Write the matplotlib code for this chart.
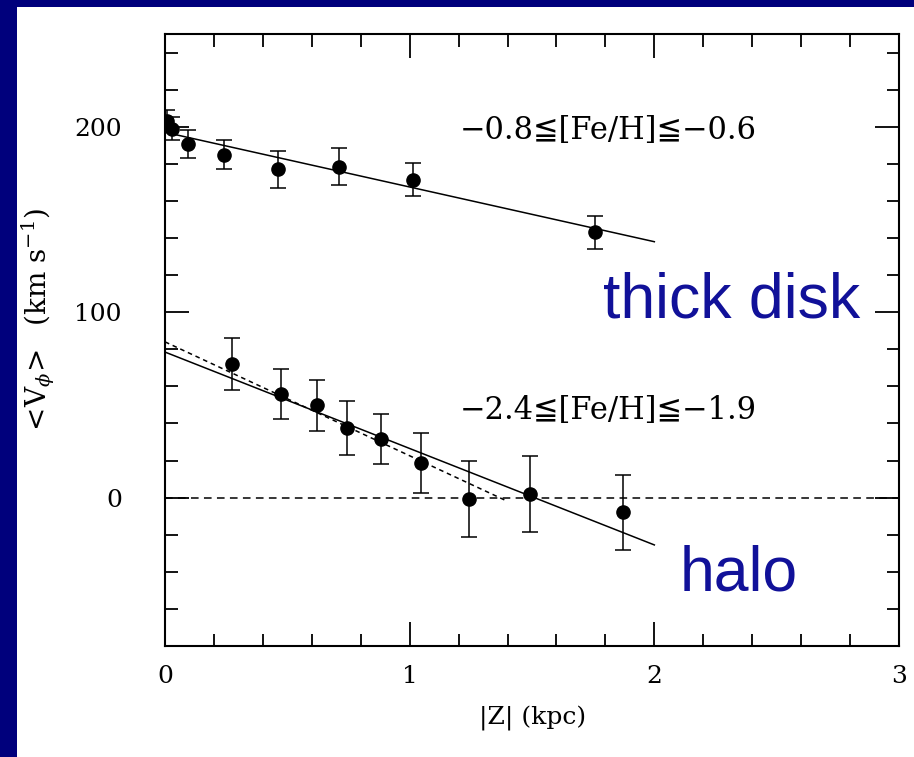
import matplotlib
matplotlib.use("Agg")
import matplotlib.pyplot as plt
from matplotlib.patches import Rectangle
import numpy as np

# ---- data ----
thick_z = [0.01, 0.03, 0.095, 0.242, 0.463, 0.711, 1.012, 1.757]
thick_v = [203, 199, 190.5, 185, 177, 178.5, 171.5, 143]
thick_err = [6, 6, 7.5, 8, 10, 10, 9, 9]

halo_z = [0.272, 0.474, 0.62, 0.742, 0.883, 1.045, 1.242, 1.492, 1.873]
halo_v = [72.3, 56.0, 49.7, 37.5, 31.5, 18.7, -0.7, 2.0, -8.0]
halo_err = [14, 13.5, 14, 14.5, 13.5, 16, 20.5, 20.5, 20]

thick_fit_z = [0, 2]
thick_fit_v = [197, 138]
halo_fit_z = [0, 2]
halo_fit_v = [78.5, -25.5]
halo_dash_z = [0, 1.4]
halo_dash_v = [84, -2]

thick_label = "\u22120.8\u2266[Fe/H]\u2266\u22120.6"
halo_label = "\u22122.4\u2266[Fe/H]\u2266\u22121.9"

W, H = 914, 757
fig = plt.figure(figsize=(W / 100, H / 100), dpi=100)
fig.patch.set_facecolor('#00007C')
# white slide panel
fig.add_artist(Rectangle((17 / W, 0), 1 - 17 / W, 1 - 7 / H, transform=fig.transFigure,
                         facecolor='white', edgecolor='none', zorder=0))

ax = fig.add_axes([165 / W, 1 - 646 / H, (899 - 165) / W, (646 - 34) / H])
ax.set_facecolor('none')

serif = ['DejaVu Serif', 'DejaVu Sans']
plt.rcParams['mathtext.fontset'] = 'dejavuserif'

lw = 1.1
ax.errorbar(thick_z, thick_v, yerr=thick_err, fmt='o', color='black', ms=9.5,
            elinewidth=lw, capsize=6, capthick=lw, zorder=3)
ax.errorbar(halo_z, halo_v, yerr=halo_err, fmt='o', color='black', ms=9.5,
            elinewidth=lw, capsize=6, capthick=lw, zorder=3)
ax.plot(thick_fit_z, thick_fit_v, color='black', lw=lw)
ax.plot(halo_fit_z, halo_fit_v, color='black', lw=lw)
ax.plot(halo_dash_z, halo_dash_v, color='black', lw=lw, linestyle=(0, (3, 2.5)))
ax.axhline(0, color='black', lw=lw, linestyle=(0, (5, 3.5)))

ax.set_xlim(0, 3)
ax.set_ylim(-80, 250)
ax.set_xticks([0, 1, 2, 3])
ax.set_xticks(np.arange(0, 3.01, 0.2), minor=True)
ax.set_yticks([0, 100, 200])
ax.set_yticks(np.arange(-80, 250, 20), minor=True)
ax.tick_params(which='both', direction='in', top=True, right=True, width=1.3, color='black')
ax.tick_params(which='major', length=17)
ax.tick_params(which='minor', length=9)
ax.tick_params(axis='x', which='major', pad=14)
ax.tick_params(axis='y', which='major', pad=31)
ax.set_xticklabels(['0', '1', '2', '3'], family=serif, fontsize=18)
ax.set_yticklabels(['0', '100', '200'], family=serif, fontsize=18)
for s in ax.spines.values():
    s.set_linewidth(1.5)

fig.text(533 / W, 1 - 718 / H, '|Z| (kpc)', family=serif, fontsize=18, ha='center', va='center')
fig.text(38 / W, 1 - 322 / H, r'$<\!\mathrm{V}_{\phi}\!>$  (km s$^{-1}$)', family=serif,
         fontsize=20, ha='center', va='center', rotation=90)

ax.text(1.205, 198, thick_label, family=serif, fontsize=22, va='center', ha='left')
ax.text(1.205, 47, halo_label, family=serif, fontsize=22, va='center', ha='left')

ax.text(1.79, 97, 'thick disk', family=['Liberation Sans', 'DejaVu Sans'], fontsize=45,
        color='#111199', va='baseline', ha='left', clip_on=False)
ax.text(2.105, -50, 'halo', family=['Liberation Sans', 'DejaVu Sans'], fontsize=45,
        color='#111199', va='baseline', ha='left', clip_on=False)

fig.savefig('out.png', dpi=100, facecolor=fig.get_facecolor())
